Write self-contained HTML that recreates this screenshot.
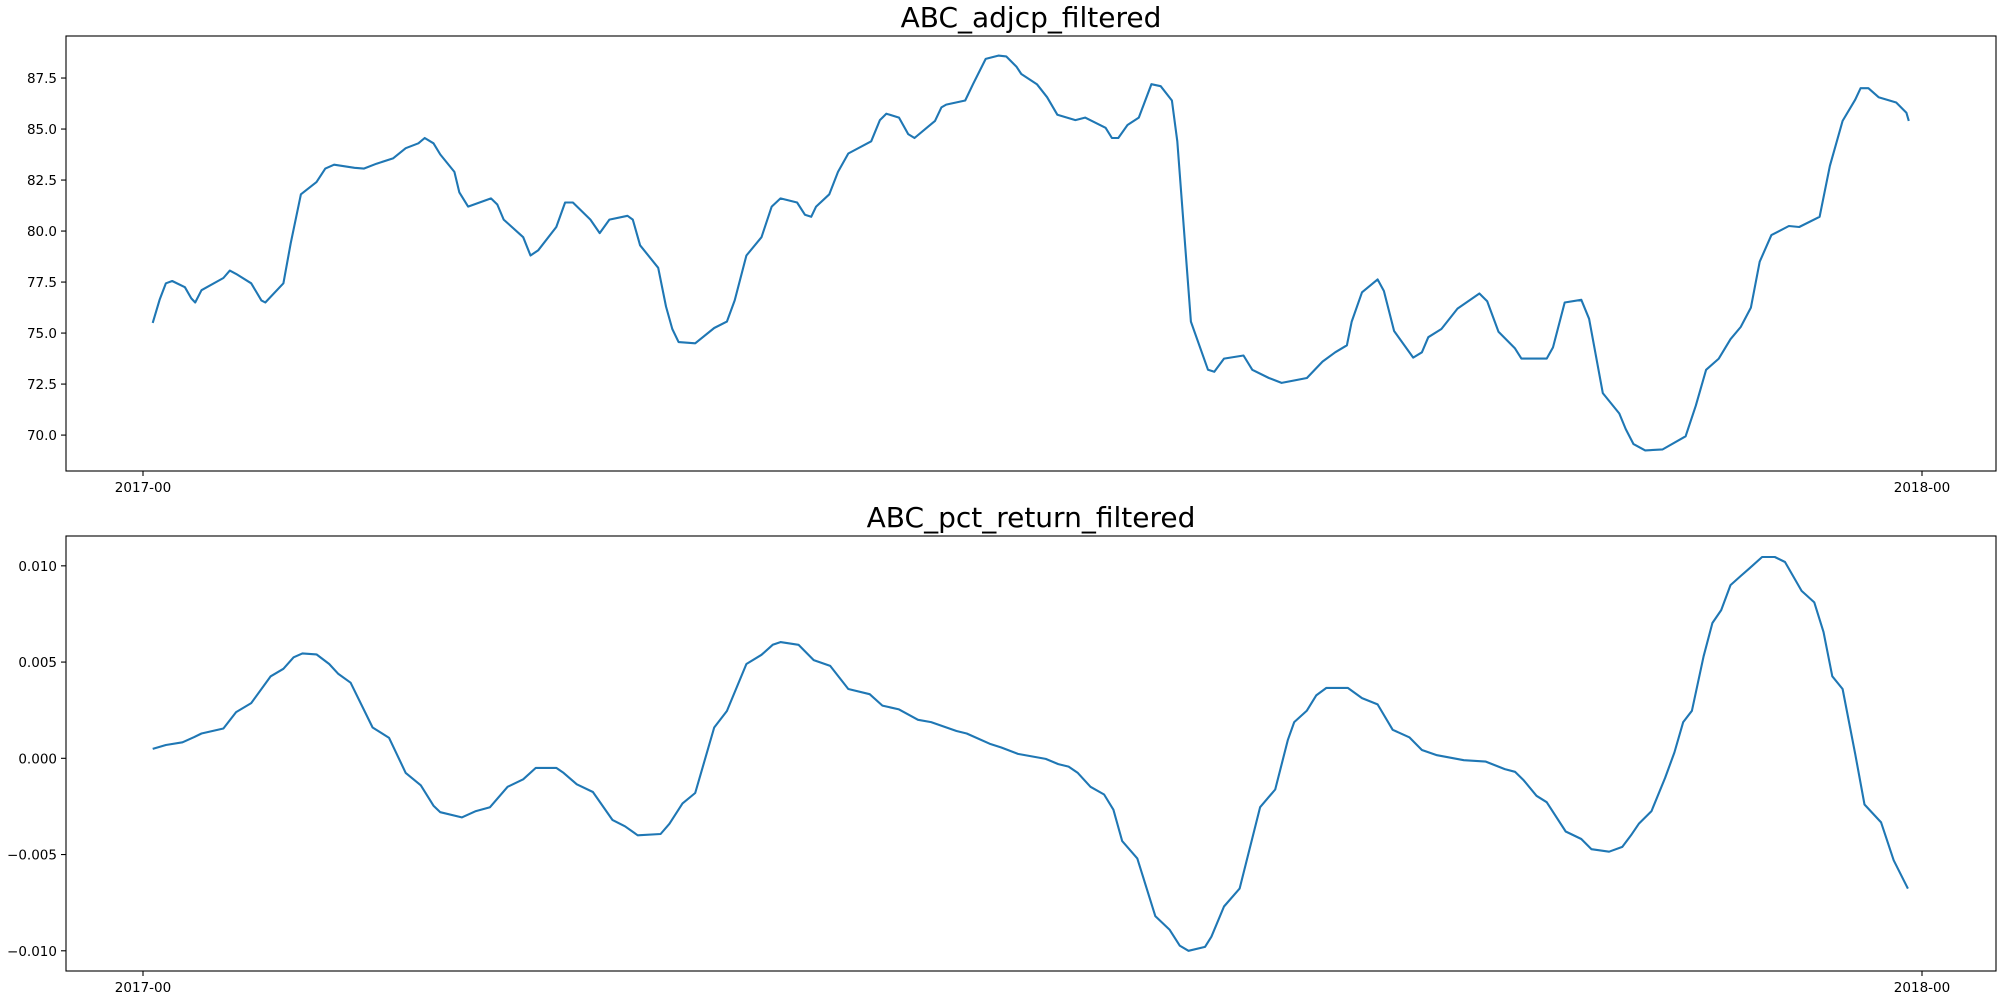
<!DOCTYPE html>
<html><head><meta charset="utf-8"><style>
html,body{margin:0;padding:0;background:#fff;}
svg{display:block;font-family:"DejaVu Sans","Liberation Sans",sans-serif;}
</style></head><body>
<svg id="chart" width="2000" height="1000" viewBox="0 0 2000 1000" xmlns="http://www.w3.org/2000/svg"></svg>
<script>
// top series: day-of-year (2017) and adjusted close
const topDays = [2,3.4,4.7,6,8.6,9.9,10.7,12,16.5,17.8,19.1,22.2,24.3,25.1,28.8,30.3,32.4,35.6,37.4,39.2,43.4,45.3,47.9,51.3,53.9,56.5,57.8,59.6,61,63.9,64.9,66.7,71.4,72.7,74,78,79.5,81.1,84.8,86.6,88.2,91.8,93.7,95.7,99.4,100.5,102,105.7,107.3,108.6,109.9,113.3,117.2,119.8,121.4,123.8,126.9,129,130.8,134.2,135.8,137.1,138.1,140.8,142.6,144.7,149.4,151.2,152.5,155.1,157,158.3,162.5,163.8,164.8,168.7,170.3,172.9,175.5,177.1,179.2,180.2,183.4,185.5,187.6,191.3,193.3,197.5,198.8,200.1,202,204.3,206.9,208.8,211.1,212.2,215,218.5,219.8,221.8,225.8,227.6,231,233.6,238.8,242,244.6,247,248,250.1,253.3,254.6,256.7,260.6,262.4,263.7,266.4,269.7,274.2,275.8,278.1,281.5,282.8,288,289.3,291.7,295.1,296.7,299.5,302.9,304.2,305.8,308.2,311.8,316.5,318.6,320.7,323.3,325.7,327.8,329.9,331.7,334.1,337.7,339.8,344,346.1,348.7,351.3,352.4,354,356.1,359.7,361.8,362.3];
const topValues = [75.5,76.63,77.44,77.55,77.25,76.7,76.5,77.1,77.7,78.06,77.9,77.44,76.6,76.5,77.44,79.4,81.8,82.4,83.06,83.25,83.1,83.06,83.3,83.56,84.06,84.3,84.56,84.3,83.75,82.9,81.9,81.2,81.6,81.3,80.56,79.7,78.8,79.06,80.2,81.4,81.4,80.56,79.9,80.56,80.75,80.56,79.3,78.2,76.3,75.2,74.56,74.5,75.25,75.56,76.6,78.8,79.7,81.2,81.6,81.4,80.8,80.7,81.2,81.8,82.9,83.8,84.4,85.44,85.75,85.56,84.75,84.56,85.4,86.06,86.2,86.4,87.2,88.44,88.6,88.56,88.06,87.7,87.2,86.56,85.7,85.44,85.56,85.06,84.56,84.56,85.2,85.56,87.2,87.1,86.4,84.4,75.56,73.2,73.1,73.75,73.9,73.2,72.8,72.56,72.8,73.6,74.06,74.4,75.56,77,77.63,77.06,75.1,73.8,74.06,74.8,75.2,76.2,76.94,76.56,75.06,74.25,73.75,73.75,74.3,76.5,76.63,75.7,72.06,71.06,70.3,69.56,69.25,69.3,69.94,71.44,73.2,73.75,74.7,75.3,76.25,78.5,79.8,80.25,80.2,80.7,83.2,85.4,86.44,87,87,86.56,86.3,85.8,85.4];
// bottom series: day-of-year and pct return (x1000)
const botDays = [2,4.7,8.1,10.5,12,16.5,19.1,22.2,26.2,28.8,30.9,32.7,35.6,38.2,40,42.6,47.1,50.5,53.9,57,59.6,61,65.4,68.3,71.2,74.8,78,80.6,84.8,86.3,89,92.3,96.3,98.9,101.5,106.2,108,110.7,113.3,117.2,119.8,123.8,126.9,129.2,130.8,134.5,137.6,141,144.7,149.1,151.7,155.1,159,161.7,166.9,169,173.7,176.1,179.5,185.2,187.8,189.9,191.8,194.4,197.2,199.1,200.9,204,207.7,210.6,212.7,214.5,217.9,219.2,221.8,225,229.2,232.3,234.9,236.2,238.8,240.7,242.8,247.2,250.1,253.3,256.4,259.8,262.4,265.5,271,275.5,279.4,281.5,283.3,285.9,288,291.9,295.1,297.2,300.8,303.5,305.3,306.9,309.5,312.3,314.2,316,317.8,320.2,322,323.8,325.7,327.8,329.6,332.2,334.8,336.9,340.3,342.9,344.8,346.6,348.7,351.3,353.2,356.6,359.2,362.1];
const botValues = [0.49,0.69,0.83,1.1,1.29,1.55,2.4,2.87,4.26,4.65,5.25,5.45,5.4,4.9,4.4,3.93,1.6,1.06,-0.76,-1.4,-2.46,-2.8,-3.07,-2.74,-2.54,-1.48,-1.09,-0.5,-0.5,-0.76,-1.35,-1.75,-3.2,-3.53,-4,-3.93,-3.4,-2.34,-1.8,1.6,2.46,4.9,5.38,5.9,6.04,5.9,5.1,4.8,3.6,3.33,2.74,2.54,2.0,1.88,1.42,1.29,0.76,0.56,0.23,-0.03,-0.3,-0.43,-0.76,-1.48,-1.88,-2.67,-4.3,-5.2,-8.2,-8.9,-9.73,-10,-9.8,-9.27,-7.7,-6.77,-2.54,-1.62,0.96,1.88,2.48,3.27,3.66,3.66,3.13,2.8,1.48,1.09,0.43,0.16,-0.1,-0.17,-0.56,-0.7,-1.15,-1.95,-2.28,-3.8,-4.19,-4.72,-4.85,-4.6,-4.0,-3.4,-2.74,-1.02,0.3,1.88,2.47,5.3,7.03,7.7,9.0,9.47,9.87,10.46,10.46,10.2,8.7,8.1,6.57,4.26,3.6,0.23,-2.4,-3.33,-5.3,-6.77];
const topTicks = [70.0,72.5,75.0,77.5,80.0,82.5,85.0,87.5];
const botTicks = [-0.010,-0.005,0.000,0.005,0.010];
const xTickDays = [0,365];
const xTickLabels = ["2017-00","2018-00"];

const NS="http://www.w3.org/2000/svg";
const svg=document.getElementById('chart');
function mk(tag,attrs,parent){const e=document.createElementNS(NS,tag);for(const k in attrs)e.setAttribute(k,attrs[k]);(parent||svg).appendChild(e);return e;}
const X0=66,X1=1996;
function xs(d){return 143+d*(1922-143)/365;}

function panel(cfg){
  const g=mk('g',{});
  
  
  const ys=v=>cfg.top+(cfg.ymax-v)/(cfg.ymax-cfg.ymin)*(cfg.bot-cfg.top);
  const t=mk('text',{x:(X0+X1)/2,y:cfg.top-9,'text-anchor':'middle','font-size':'28'},g);
  t.textContent=cfg.title;
  
  
  let d='';
  for(let i=0;i<cfg.days.length;i++){d+=(i?'L':'M')+xs(cfg.days[i]).toFixed(1)+','+ys(cfg.vals[i]*cfg.k).toFixed(1);}
  const p=mk('path',{d:d,fill:'none',stroke:'#1f77b4','stroke-width':'2.1','stroke-linejoin':'round'},g);
  
  
  const fr=mk('rect',{x:X0,y:cfg.top,width:X1-X0,height:cfg.bot-cfg.top,fill:'none',stroke:'#000','stroke-width':'1.1'},g);
  
  
  cfg.ticks.forEach(v=>{
    const y=ys(v);
    mk('line',{x1:X0-5,x2:X0,y1:y,y2:y,stroke:'#000','stroke-width':'1.1'},g);
    const l=mk('text',{x:X0-9,y:y+5,'text-anchor':'end','font-size':'13.5'},g);
    l.textContent=cfg.fmt(v);
    
    
  });
  xTickDays.forEach((dd,i)=>{
    const x=xs(dd);
    mk('line',{x1:x,x2:x,y1:cfg.bot,y2:cfg.bot+5,stroke:'#000','stroke-width':'1.1'},g);
    const l=mk('text',{x:x,y:cfg.bot+21,'text-anchor':'middle','font-size':'13.5'},g);
    l.textContent=xTickLabels[i];
    
    
  });
}
panel({name:'adjcp-panel',title:'ABC_adjcp_filtered',top:36,bot:471,ymin:68.24,ymax:89.56,days:topDays,vals:topValues,k:1,ticks:topTicks,fmt:v=>v.toFixed(1)});
panel({name:'pct-return-panel',title:'ABC_pct_return_filtered',top:536,bot:971,ymin:-0.01105,ymax:0.01155,days:botDays,vals:botValues,k:0.001,ticks:botTicks,fmt:v=>(v<0?'\u2212':'')+Math.abs(v).toFixed(3)});
</script>
</body></html>
